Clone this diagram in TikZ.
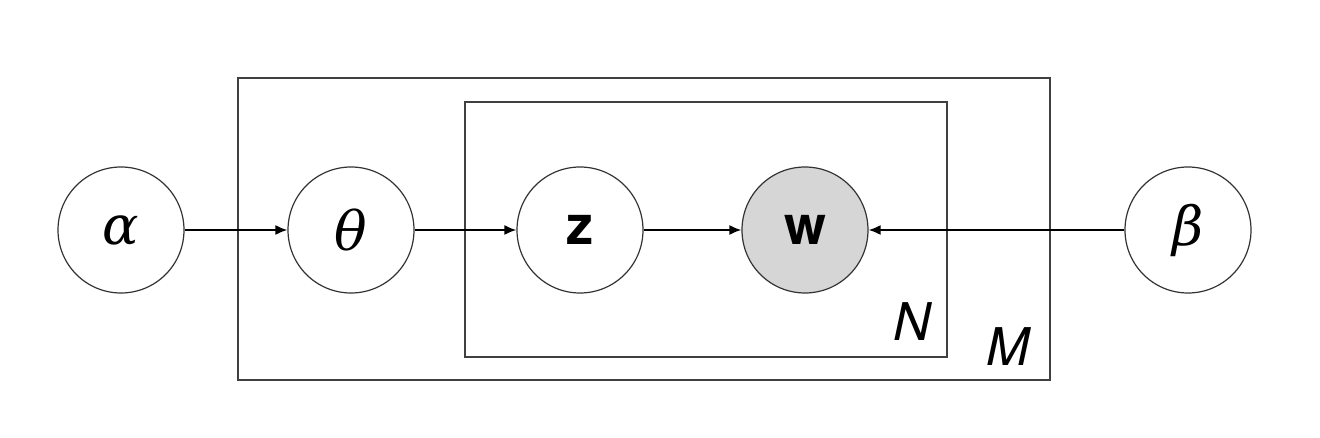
\documentclass[tikz,border=0pt]{standalone}
\usepackage{fontspec}
\newfontfamily\sansf{TeX Gyre Heros}
\newfontfamily\greekf{DejaVu Serif}
\usetikzlibrary{arrows.meta}
\definecolor{obsgray}{HTML}{D6D6D6}
\definecolor{circline}{HTML}{333333}
\begin{document}
\begin{tikzpicture}[x=1pt,y=-1pt,
  var/.style={circle,draw=circline,line width=1.2pt,minimum size=126pt,inner sep=0pt},
  obs/.style={var,fill=obsgray},
  plate/.style={draw=black!75,line width=1.2pt},
  edge/.style={line width=1.8pt,-{Latex[length=12pt,width=10pt]}},
  greek/.style={font=\greekf\itshape\fontsize{54}{54}\selectfont},
  latin/.style={font=\sansf\bfseries\fontsize{54}{54}\selectfont},
  platelabel/.style={font=\sansf\itshape\fontsize{52}{52}\selectfont}]
\useasboundingbox (0,0) rectangle (1320,438);
\draw[plate] (238,78) rectangle (1050,380);
\draw[plate] (465,102) rectangle (947,357);
\node[var,greek] (alpha) at (121,230) {α};
\node[var,greek] (theta) at (351,230) {θ};
\node[var,latin] (z) at (580,230) {z};
\node[obs,latin] (w) at (805,230) {w};
\node[var,greek] (beta) at (1188,230) {β};
\node[platelabel] (N) at (912,322) {N};
\node[platelabel] (M) at (1008,347) {M};
\draw[edge] (alpha) -- (theta);
\draw[edge] (theta) -- (z);
\draw[edge] (z) -- (w);
\draw[edge] (beta) -- (w);
\end{tikzpicture}
\end{document}
